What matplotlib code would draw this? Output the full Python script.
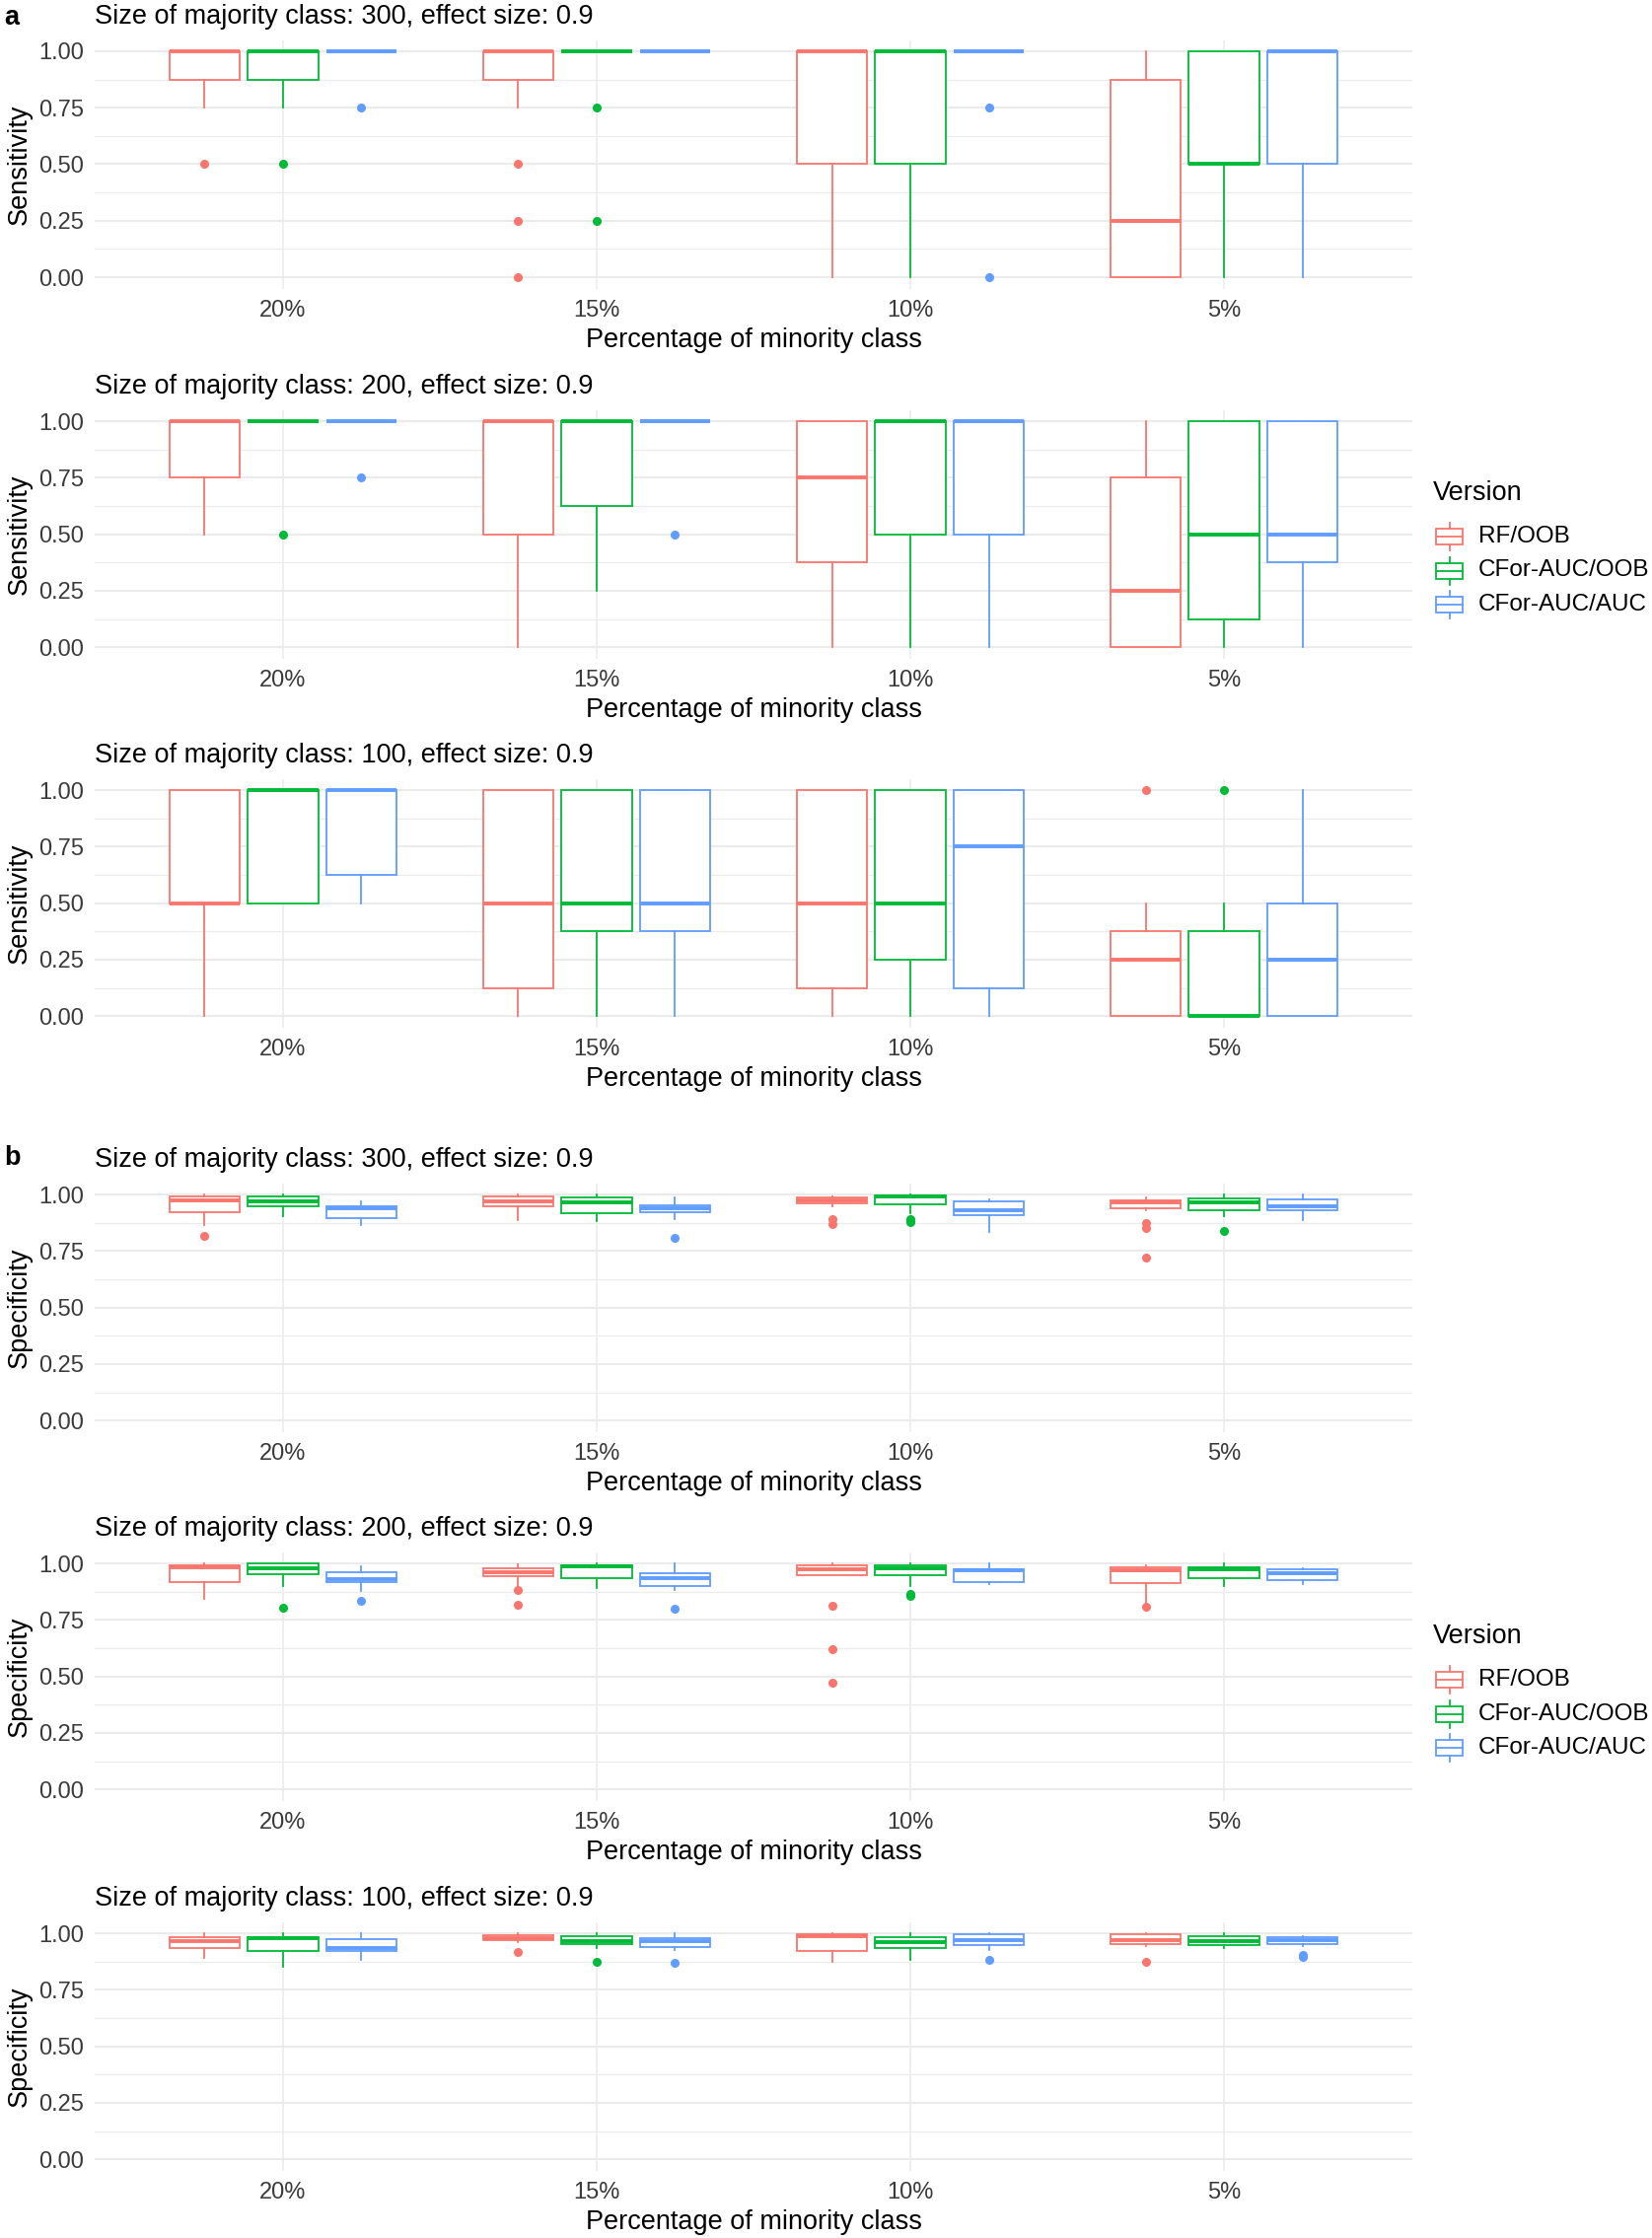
import matplotlib
matplotlib.use("Agg")
import matplotlib.pyplot as plt
from matplotlib.patches import Rectangle
import numpy as np

plt.rcParams['font.family'] = ['Liberation Sans', 'DejaVu Sans']

# categories / versions
categories = ['20%', '15%', '10%', '5%']
versions = ['RF/OOB', 'CFor-AUC/OOB', 'CFor-AUC/AUC']
colors = ['#F8766D', '#00BA38', '#619CFF']
majority_sizes = [300, 200, 100]

# box statistics, rows = versions (RF/OOB, CFor-AUC/OOB, CFor-AUC/AUC), cols = categories
# --- sensitivity, majority 300
sens300_lo = [[0.75, 0.75, 0.0, 0.0], [0.75, 1.0, 0.0, 0.0], [1.0, 1.0, 1.0, 0.0]]
sens300_q1 = [[0.875, 0.875, 0.5, 0.0], [0.875, 1.0, 0.5, 0.5], [1.0, 1.0, 1.0, 0.5]]
sens300_med = [[1.0, 1.0, 1.0, 0.25], [1.0, 1.0, 1.0, 0.5], [1.0, 1.0, 1.0, 1.0]]
sens300_q3 = [[1.0, 1.0, 1.0, 0.875], [1.0, 1.0, 1.0, 1.0], [1.0, 1.0, 1.0, 1.0]]
sens300_hi = [[1.0, 1.0, 1.0, 1.0], [1.0, 1.0, 1.0, 1.0], [1.0, 1.0, 1.0, 1.0]]
sens300_out = [[[0.5], [0.5, 0.25, 0.0], [], []],
               [[0.5], [0.75, 0.25], [], []],
               [[0.75], [], [0.75, 0.0], []]]

# --- sensitivity, majority 200
sens200_lo = [[0.5, 0.0, 0.0, 0.0], [1.0, 0.25, 0.0, 0.0], [1.0, 1.0, 0.0, 0.0]]
sens200_q1 = [[0.75, 0.5, 0.375, 0.0], [1.0, 0.625, 0.5, 0.125], [1.0, 1.0, 0.5, 0.375]]
sens200_med = [[1.0, 1.0, 0.75, 0.25], [1.0, 1.0, 1.0, 0.5], [1.0, 1.0, 1.0, 0.5]]
sens200_q3 = [[1.0, 1.0, 1.0, 0.75], [1.0, 1.0, 1.0, 1.0], [1.0, 1.0, 1.0, 1.0]]
sens200_hi = [[1.0, 1.0, 1.0, 1.0], [1.0, 1.0, 1.0, 1.0], [1.0, 1.0, 1.0, 1.0]]
sens200_out = [[[], [], [], []],
               [[0.5], [], [], []],
               [[0.75], [0.5], [], []]]

# --- sensitivity, majority 100
sens100_lo = [[0.0, 0.0, 0.0, 0.0], [0.5, 0.0, 0.0, 0.0], [0.5, 0.0, 0.0, 0.0]]
sens100_q1 = [[0.5, 0.125, 0.125, 0.0], [0.5, 0.375, 0.25, 0.0], [0.625, 0.375, 0.125, 0.0]]
sens100_med = [[0.5, 0.5, 0.5, 0.25], [1.0, 0.5, 0.5, 0.0], [1.0, 0.5, 0.75, 0.25]]
sens100_q3 = [[1.0, 1.0, 1.0, 0.375], [1.0, 1.0, 1.0, 0.375], [1.0, 1.0, 1.0, 0.5]]
sens100_hi = [[1.0, 1.0, 1.0, 0.5], [1.0, 1.0, 1.0, 0.5], [1.0, 1.0, 1.0, 1.0]]
sens100_out = [[[], [], [], [1.0]],
               [[], [], [], [1.0]],
               [[], [], [], []]]

# --- specificity, majority 300
spec300_lo = [[0.866, 0.888, 0.95, 0.93], [0.905, 0.881, 0.917, 0.905], [0.866, 0.891, 0.833, 0.888]]
spec300_q1 = [[0.921, 0.946, 0.959, 0.937], [0.95, 0.918, 0.955, 0.932], [0.895, 0.921, 0.908, 0.932]]
spec300_med = [[0.972, 0.971, 0.974, 0.965], [0.971, 0.964, 0.991, 0.964], [0.939, 0.939, 0.930, 0.946]]
spec300_q3 = [[0.99, 0.99, 0.985, 0.972], [0.99, 0.985, 0.994, 0.981], [0.949, 0.953, 0.969, 0.977]]
spec300_hi = [[1.0, 1.0, 0.99, 0.987], [1.0, 1.0, 1.0, 1.0], [0.971, 0.987, 0.98, 1.0]]
spec300_out = [[[0.815], [], [0.89, 0.87], [0.875, 0.85, 0.723]],
               [[], [], [0.89, 0.877], [0.84]],
               [[], [0.806], [], []]]

# --- specificity, majority 200
spec200_lo = [[0.843, 0.898, 0.95, 0.82], [0.902, 0.892, 0.9, 0.9], [0.876, 0.884, 0.908, 0.91]]
spec200_q1 = [[0.917, 0.942, 0.95, 0.914], [0.952, 0.935, 0.949, 0.935], [0.918, 0.9, 0.917, 0.925]]
spec200_med = [[0.983, 0.96, 0.973, 0.968], [0.978, 0.985, 0.98, 0.975], [0.931, 0.933, 0.968, 0.958]]
spec200_q3 = [[0.993, 0.98, 0.99, 0.981], [1.0, 0.993, 0.99, 0.984], [0.96, 0.958, 0.975, 0.972]]
spec200_hi = [[1.0, 0.996, 1.0, 0.99], [1.0, 1.0, 1.0, 1.0], [0.985, 1.0, 1.0, 0.98]]
spec200_out = [[[], [0.882, 0.818], [0.814, 0.619, 0.473], [0.81]],
               [[0.803], [], [0.865, 0.855], []],
               [[0.836], [0.8], [], []]]

# --- specificity, majority 100
spec100_lo = [[0.891, 0.96, 0.875, 0.945], [0.85, 0.933, 0.884, 0.934], [0.884, 0.926, 0.926, 0.945]]
spec100_q1 = [[0.936, 0.969, 0.92, 0.952], [0.92, 0.952, 0.934, 0.948], [0.92, 0.94, 0.948, 0.952]]
spec100_med = [[0.967, 0.978, 0.987, 0.971], [0.978, 0.967, 0.959, 0.967], [0.933, 0.967, 0.969, 0.968]]
spec100_q3 = [[0.984, 0.991, 0.994, 0.994], [0.984, 0.985, 0.981, 0.985], [0.972, 0.978, 0.994, 0.984]]
spec100_hi = [[1.0, 1.0, 1.0, 1.0], [1.0, 1.0, 1.0, 1.0], [1.0, 1.0, 1.0, 0.988]]
spec100_out = [[[], [0.916], [], [0.875]],
               [[], [0.875], [], []],
               [[], [0.869], [0.884], [0.905, 0.895]]]

W, H = 1675, 2269
OFFSETS = [-0.25, 0.0, 0.25]
GRID = '#EBEBEB'


def draw_panel(ax, lo, q1, med, q3, hi, out, ylabel, title):
    x = np.arange(1, len(categories) + 1)
    for v, col in enumerate(colors):
        stats = []
        for c in range(len(categories)):
            stats.append(dict(whislo=lo[v][c], q1=q1[v][c], med=med[v][c],
                              q3=q3[v][c], whishi=hi[v][c], fliers=out[v][c]))
        ax.bxp(stats, positions=x + OFFSETS[v], widths=0.225, patch_artist=True,
               showcaps=False, manage_ticks=False,
               boxprops=dict(facecolor='white', edgecolor=col, linewidth=1.3),
               medianprops=dict(color=col, linewidth=2.8, solid_capstyle='butt'),
               whiskerprops=dict(color=col, linewidth=1.3),
               flierprops=dict(marker='o', markerfacecolor=col, markeredgecolor=col,
                               markersize=5.5, linestyle='none'))

    ax.set_xlim(0.4, 4.6)
    ax.set_ylim(-0.05, 1.05)
    ax.set_xticks(x, categories)
    ax.set_yticks([0, 0.25, 0.5, 0.75, 1.0], ['0.00', '0.25', '0.50', '0.75', '1.00'])
    ax.set_yticks([0.125, 0.375, 0.625, 0.875], minor=True)
    ax.set_axisbelow(True)
    ax.grid(which='major', axis='y', color=GRID, linewidth=1.5)
    ax.grid(which='minor', axis='y', color=GRID, linewidth=0.8)
    ax.grid(which='major', axis='x', color=GRID, linewidth=1.1)
    for s in ax.spines.values():
        s.set_visible(False)
    ax.tick_params(which='both', length=0, labelsize=17, labelcolor='#3A3A3A', pad=8)

    ax.set_xlabel('Percentage of minority class', fontsize=19.5)
    ax.xaxis.set_label_coords(0.5, -52 / 252)
    ax.xaxis.label.set_va('center')
    ax.set_ylabel(ylabel, fontsize=19.5)
    ax.yaxis.set_label_coords(-76 / 1336, 0.5)
    ax.yaxis.label.set_va('center')
    ax.annotate(title, xy=(0, 1), xycoords='axes fraction', xytext=(0, 17),
                textcoords='offset points', ha='left', va='center', fontsize=19.5)


def draw_legend(ov, top):
    # legend drawn in figure pixel space on overlay axes
    ov.text(1453, top, 'Version', fontsize=19.5, ha='left', va='center')
    for i, (lab, col) in enumerate(zip(versions, colors)):
        y = top + 44 + i * 34.5
        ov.add_patch(Rectangle((1456, y - 8), 27, 16, facecolor='white', edgecolor=col, lw=1.3))
        ov.plot([1456, 1483], [y, y], color=col, lw=1.3)
        ov.plot([1469.5, 1469.5], [y - 14, y - 8], color=col, lw=1.3)
        ov.plot([1469.5, 1469.5], [y + 8, y + 14], color=col, lw=1.3)
        ov.text(1499, y, lab, fontsize=17.5, ha='left', va='center')


fig = plt.figure(figsize=(W / 100, H / 100), dpi=100)

panels = [
    (sens300_lo, sens300_q1, sens300_med, sens300_q3, sens300_hi, sens300_out, 'Sensitivity', 300),
    (sens200_lo, sens200_q1, sens200_med, sens200_q3, sens200_hi, sens200_out, 'Sensitivity', 200),
    (sens100_lo, sens100_q1, sens100_med, sens100_q3, sens100_hi, sens100_out, 'Sensitivity', 100),
    (spec300_lo, spec300_q1, spec300_med, spec300_q3, spec300_hi, spec300_out, 'Specificity', 300),
    (spec200_lo, spec200_q1, spec200_med, spec200_q3, spec200_hi, spec200_out, 'Specificity', 200),
    (spec100_lo, spec100_q1, spec100_med, spec100_q3, spec100_hi, spec100_out, 'Specificity', 100),
]
panel_tops = [40.5, 415.6, 789.6, 1199.6, 1573.6, 1948.6]

for (lo, q1, med, q3, hi, out, ylab, size), top in zip(panels, panel_tops):
    ax = fig.add_axes([96 / W, 1 - (top + 252) / H, 1336 / W, 252 / H])
    draw_panel(ax, lo, q1, med, q3, hi, out, ylab,
               f'Size of majority class: {size}, effect size: 0.9')

# overlay for panel letters and legends
ov = fig.add_axes([0, 0, 1, 1], facecolor='none')
ov.set_xlim(0, W)
ov.set_ylim(H, 0)
ov.axis('off')
ov.text(4, 25, 'a', fontsize=19.5, fontweight='bold', ha='left', va='baseline')
ov.text(4, 1181, 'b', fontsize=19.5, fontweight='bold', ha='left', va='baseline')
draw_legend(ov, 500)
draw_legend(ov, 1659)

fig.savefig('out.png', dpi=100)
